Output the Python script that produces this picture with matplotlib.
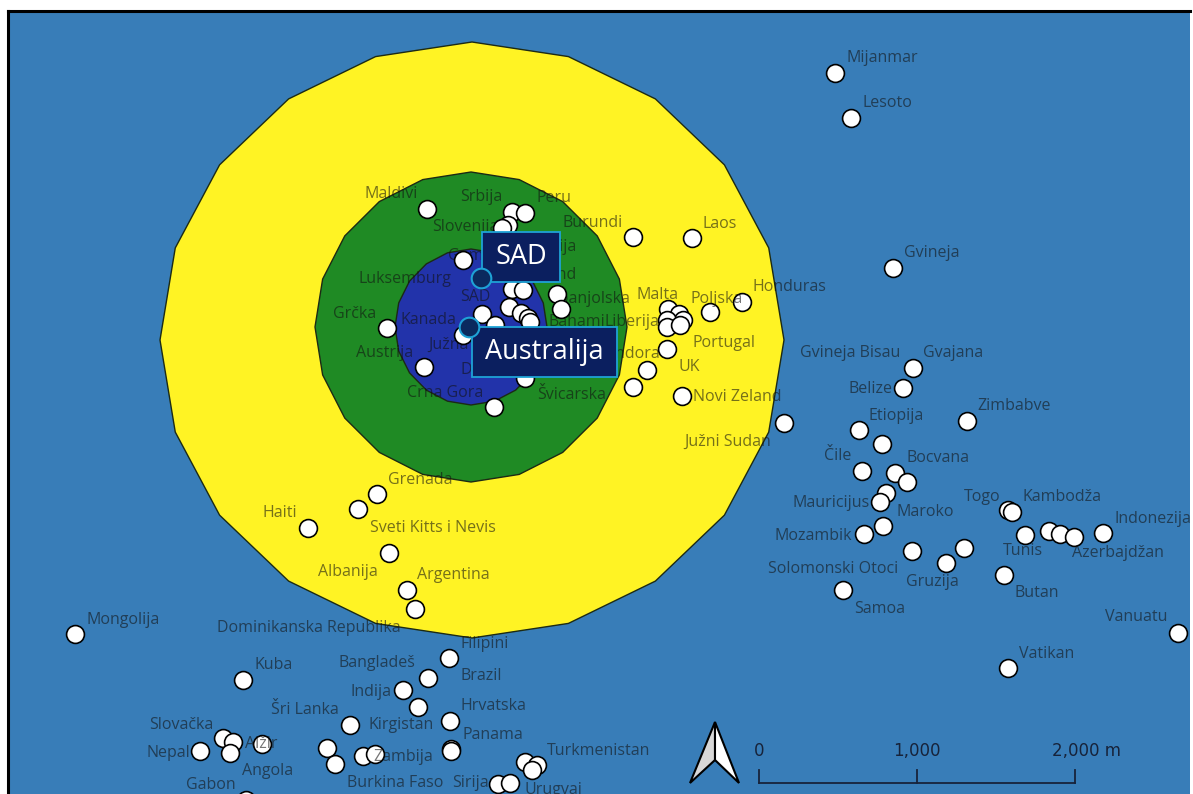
import numpy as np
import matplotlib
matplotlib.use('Agg')
import matplotlib.pyplot as plt
from matplotlib.patches import Polygon, Rectangle

# map coordinates are screen-like units (x right, y down)
point_x = [835, 851, 893,
           427, 512, 525, 508, 502, 633, 692, 463, 512, 523, 557, 509, 482, 521, 528, 530, 561, 495, 463,
           387, 424, 525, 494,
           668, 679, 683, 667, 667, 680, 710, 742, 667, 647, 633, 682,
           784, 913, 903, 967, 859, 882, 862, 895, 907, 886, 880, 864, 883, 1008, 1012, 1025, 1049, 1060,
           1074, 1103, 912, 964, 946, 1004, 843, 1178, 1008,
           377, 358, 308, 389, 407, 415,
           75, 243, 449, 428, 403, 418, 450, 350, 451, 451, 525, 537, 532, 327, 335, 363, 375, 200, 223,
           233, 230, 262, 246, 498, 510]
point_y = [73, 118, 268,
           209, 212, 213, 225, 228, 237, 238, 260, 289, 290, 294, 307, 314, 313, 318, 322, 309, 325, 335,
           328, 367, 378, 407,
           309, 314, 320, 320, 327, 325, 312, 302, 349, 370, 387, 396,
           423, 368, 388, 421, 430, 444, 471, 473, 482, 493, 502, 534, 526, 510, 512, 535, 531, 534,
           537, 533, 551, 548, 563, 575, 590, 633, 668,
           494, 509, 528, 553, 590, 609,
           634, 680, 658, 678, 690, 707, 721, 725, 749, 751, 762, 765, 770, 748, 764, 756, 754, 751, 738,
           742, 753, 744, 800, 784, 783]

label_names = ['Mijanmar', 'Lesoto', 'Gvineja', 'Maldivi', 'Srbija', 'Peru', 'Slovenija', 'Burundi',
               'Laos', 'Italija', 'Tajland', 'Gambija', 'Luksemburg', 'SAD', 'Kanada', 'Južna Afrika',
               'Grčka', 'Austrija', 'Crna Gora', 'Danska', 'Švicarska', 'Španjolska', 'Bahami',
               'Liberija', 'Andora', 'Malta', 'Poljska', 'Honduras', 'Portugal', 'UK', 'Novi Zeland',
               'Južni Sudan', 'Gvineja Bisau', 'Gvajana', 'Belize', 'Zimbabve', 'Etiopija', 'Čile',
               'Bocvana', 'Mauricijus', 'Maroko', 'Mozambik', 'Togo', 'Kambodža', 'Indonezija', 'Tunis',
               'Azerbajdžan', 'Solomonski Otoci', 'Gruzija', 'Butan', 'Samoa', 'Vanuatu', 'Vatikan',
               'Grenada', 'Haiti', 'Sveti Kitts i Nevis', 'Albanija', 'Argentina',
               'Dominikanska Republika', 'Mongolija', 'Kuba', 'Bangladeš', 'Indija', 'Filipini', 'Brazil',
               'Hrvatska', 'Kirgistan', 'Šri Lanka', 'Panama', 'Turkmenistan', 'Zambija', 'Slovačka',
               'Nepal', 'Alžir', 'Angola', 'Gabon', 'Burkina Faso', 'Sirija', 'Urugvaj']
label_x = [846, 862, 904, 365, 460, 537, 432, 562,
           703, 537, 523, 448, 358, 460, 400, 428,
           333, 356, 407, 460, 537, 550, 548,
           604, 605, 637, 691, 752, 692, 678, 693,
           684, 800, 923, 848, 977, 869, 824,
           906, 792, 897, 775, 964, 1023, 1114, 1003,
           1072, 768, 906, 1015, 854, 1105, 1019,
           388, 263, 370, 318, 417,
           217, 86, 254, 339, 351, 461, 460,
           461, 368, 271, 462, 547, 373, 149,
           146, 245, 242, 186, 347, 452, 525]
label_y = [58, 103, 253, 194, 197, 198, 227, 223,
           224, 247, 275, 256, 279, 297, 320, 345,
           314, 353, 393, 370, 395, 297, 322,
           322, 354, 295, 299, 287, 343, 367, 397,
           442, 353, 353, 389, 406, 416, 456,
           458, 503, 512, 536, 497, 497, 519, 551,
           553, 569, 582, 593, 609, 617, 654,
           480, 513, 528, 572, 575,
           628, 620, 665, 663, 692, 644, 676,
           706, 725, 710, 735, 751, 757, 725,
           753, 744, 771, 785, 783, 783, 790]
labels_under = ['Slovenija', 'Gambija', 'SAD', 'Španjolska', 'Bahami', 'Liberija', 'Italija',
                'Tajland', 'Andora', 'Danska', 'Južna Afrika']

# buffer zones: (center x, center y, radius x, radius y, colour)
zones = [(472, 340, 312, 298, '#fff324'),
         (471, 327, 156, 155, '#1f8a24'),
         (471, 327, 76, 78, '#2233aa')]

capitals = ['SAD', 'Australija']
capital_x = [481, 469]
capital_y = [278, 327]

scale_ticks = [0, 1000, 2000]
scale_labels = ['0', '1,000', '2,000 m']

plt.rcParams['font.family'] = ['Open Sans', 'DejaVu Sans']

fig = plt.figure(figsize=(11.93, 7.94), dpi=100)
ax = fig.add_axes([8 / 1193, 0, (1190 - 8) / 1193, (794 - 11) / 794])
ax.set_xlim(8, 1190)
ax.set_ylim(794, 11)
ax.set_facecolor('#387db8')
ax.set_xticks([])
ax.set_yticks([])
for s in ['right', 'bottom']:
    ax.spines[s].set_visible(False)
for s in ['left', 'top']:
    ax.spines[s].set_linewidth(2.2)
    ax.spines[s].set_color('black')

ang = np.deg2rad(np.arange(0, 360, 18))
for cx, cy, rx, ry, col in zones:
    pts = np.column_stack([cx + rx * np.cos(ang), cy - ry * np.sin(ang)])
    ax.add_patch(Polygon(pts, closed=True, facecolor=col, edgecolor='#1c2a14', lw=1.0, zorder=1))

txt_col = '#111111'
for name, lx, ly in zip(label_names, label_x, label_y):
    z = 2 if name in labels_under else 5
    ax.text(lx, ly, name, fontsize=11.5, color=txt_col, alpha=0.58, ha='left', va='center', zorder=z)

ax.scatter(point_x, point_y, s=165, facecolor='white', edgecolor='black', linewidth=1.2, zorder=3)

# label boxes for the two capitals
boxes = [(482, 232, 78, 50), (472, 327, 145, 50)]
for (bx, by, bw, bh), name in zip(boxes, capitals):
    ax.add_patch(Rectangle((bx, by), bw, bh, facecolor='#0b1f5f', edgecolor='#1ea2d6', lw=1.3, zorder=6))
    ax.text(bx + bw / 2, by + bh / 2, name, fontsize=19.5, color='white', ha='center', va='center',
            zorder=7)
ax.scatter(capital_x, capital_y, s=200, facecolor='#0b2a5e', edgecolor='#1ea2d6', linewidth=1.5, zorder=8)

# north arrow
ax.add_patch(Polygon([[690, 783], [715, 722], [715, 760]], facecolor='#d8d8d8', edgecolor='black',
                     lw=1.5, zorder=6))
ax.add_patch(Polygon([[715, 722], [739, 783], [715, 760]], facecolor='white', edgecolor='black',
                     lw=1.5, zorder=6))

# scale bar
x0, x1 = 759, 1075
px = [x0 + (x1 - x0) * t / scale_ticks[-1] for t in scale_ticks]
ax.plot([px[0], px[-1]], [783, 783], color='#17233a', lw=1.3, zorder=6)
for p, lab in zip(px, scale_labels):
    ax.plot([p, p], [770, 783], color='#17233a', lw=1.3, zorder=6)
    if lab.endswith('m'):
        ax.text(p - 23, 751, lab, fontsize=12, color='#17233a', ha='left', va='center',
                family='DejaVu Sans', zorder=6)
    else:
        ax.text(p, 751, lab, fontsize=12, color='#17233a', ha='center', va='center',
                family='DejaVu Sans', zorder=6)

fig.savefig('out.png', dpi=100)
